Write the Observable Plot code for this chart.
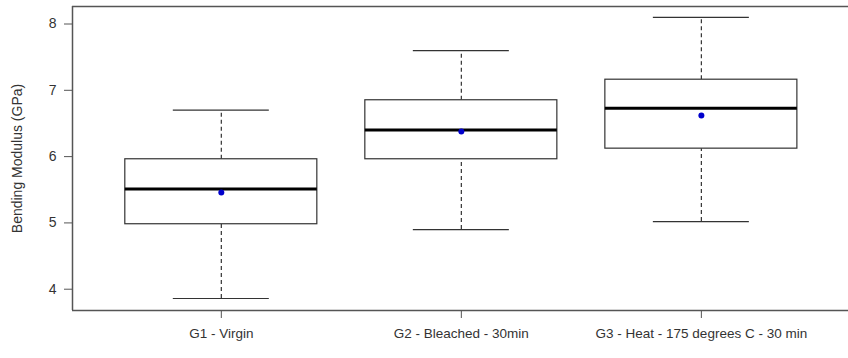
<!DOCTYPE html>
<html>
<head>
<meta charset="utf-8">
<script src="https://cdn.jsdelivr.net/npm/d3@7"></script>
<script src="https://cdn.jsdelivr.net/npm/@observablehq/plot@0.6"></script>
<style>
  html, body { margin: 0; padding: 0; background: #fff; }
  svg { display: block; }
</style>
</head>
<body>
<div id="chart"></div>
<script>
const groups = ["G1 - Virgin", "G2 - Bleached - 30min", "G3 - Heat - 175 degrees C - 30 min"];
const lowWhisker = [3.86, 4.90, 5.02];
const q1 = [4.98, 5.96, 6.12];
const median = [5.51, 6.40, 6.73];
const q3 = [5.96, 6.85, 7.16];
const highWhisker = [6.70, 7.60, 8.10];
const means = [5.46, 6.38, 6.62];
const yTicks = [4, 5, 6, 7, 8];

const data = groups.map((g, i) => ({
  group: g, pos: i + 1,
  lo: lowWhisker[i], q1: q1[i], med: median[i], q3: q3[i], hi: highWhisker[i], mean: means[i]
}));

const xDomain = [0.38, 3.613];
const yDomain = [3.679, 8.264];
const boxHalf = 0.4, capHalf = 0.2;
const frameColor = "#555";
const lineColor = "#333";

const chart = Plot.plot({
  width: 848,
  height: 358,
  marginLeft: 72,
  marginRight: 0,
  marginTop: 6,
  marginBottom: 48,
  style: { fontFamily: "'Liberation Sans', Arial, sans-serif", fontSize: "14px", color: "#333", background: "#fff" },
  x: { type: "linear", domain: xDomain },
  y: { domain: yDomain },
  marks: [
    // frame (left, top, bottom)
    Plot.ruleX([xDomain[0]], { y1: yDomain[0], y2: yDomain[1], stroke: frameColor, strokeWidth: 1.5 }),
    Plot.ruleY(yDomain, { stroke: frameColor, strokeWidth: 1.5 }),
    // whiskers
    Plot.ruleX(data, { x: "pos", y1: "q3", y2: "hi", stroke: lineColor, strokeDasharray: "4,3", strokeWidth: 1.2 }),
    Plot.ruleX(data, { x: "pos", y1: "lo", y2: "q1", stroke: lineColor, strokeDasharray: "4,3", strokeWidth: 1.2 }),
    Plot.ruleY(data, { y: "hi", x1: d => d.pos - capHalf, x2: d => d.pos + capHalf, stroke: lineColor, strokeWidth: 1.2 }),
    Plot.ruleY(data, { y: "lo", x1: d => d.pos - capHalf, x2: d => d.pos + capHalf, stroke: lineColor, strokeWidth: 1.2 }),
    // boxes
    Plot.rect(data, { x1: d => d.pos - boxHalf, x2: d => d.pos + boxHalf, y1: "q1", y2: "q3", fill: "white", stroke: lineColor, strokeWidth: 1.2 }),
    // medians
    Plot.ruleY(data, { y: "med", x1: d => d.pos - boxHalf, x2: d => d.pos + boxHalf, stroke: "#000", strokeWidth: 3 }),
    // means
    Plot.dot(data, { x: "pos", y: "mean", r: 3, fill: "#0000cc", stroke: "none" }),
    // axes
    Plot.axisY({
      ticks: yTicks, tickFormat: "d", tickSize: 8, tickPadding: 8, stroke: frameColor, fill: "#333", fontSize: 14,
      label: "Bending Modulus (GPa)", labelAnchor: "center", labelArrow: "none", labelOffset: 60
    }),
    Plot.axisX(data.map(d => d.pos), {
      tickFormat: v => groups[v - 1], tickSize: 8, tickPadding: 10, stroke: frameColor, fill: "#333", fontSize: 13.5, label: null
    })
  ]
});
document.getElementById("chart").appendChild(chart);
</script>
</body>
</html>
